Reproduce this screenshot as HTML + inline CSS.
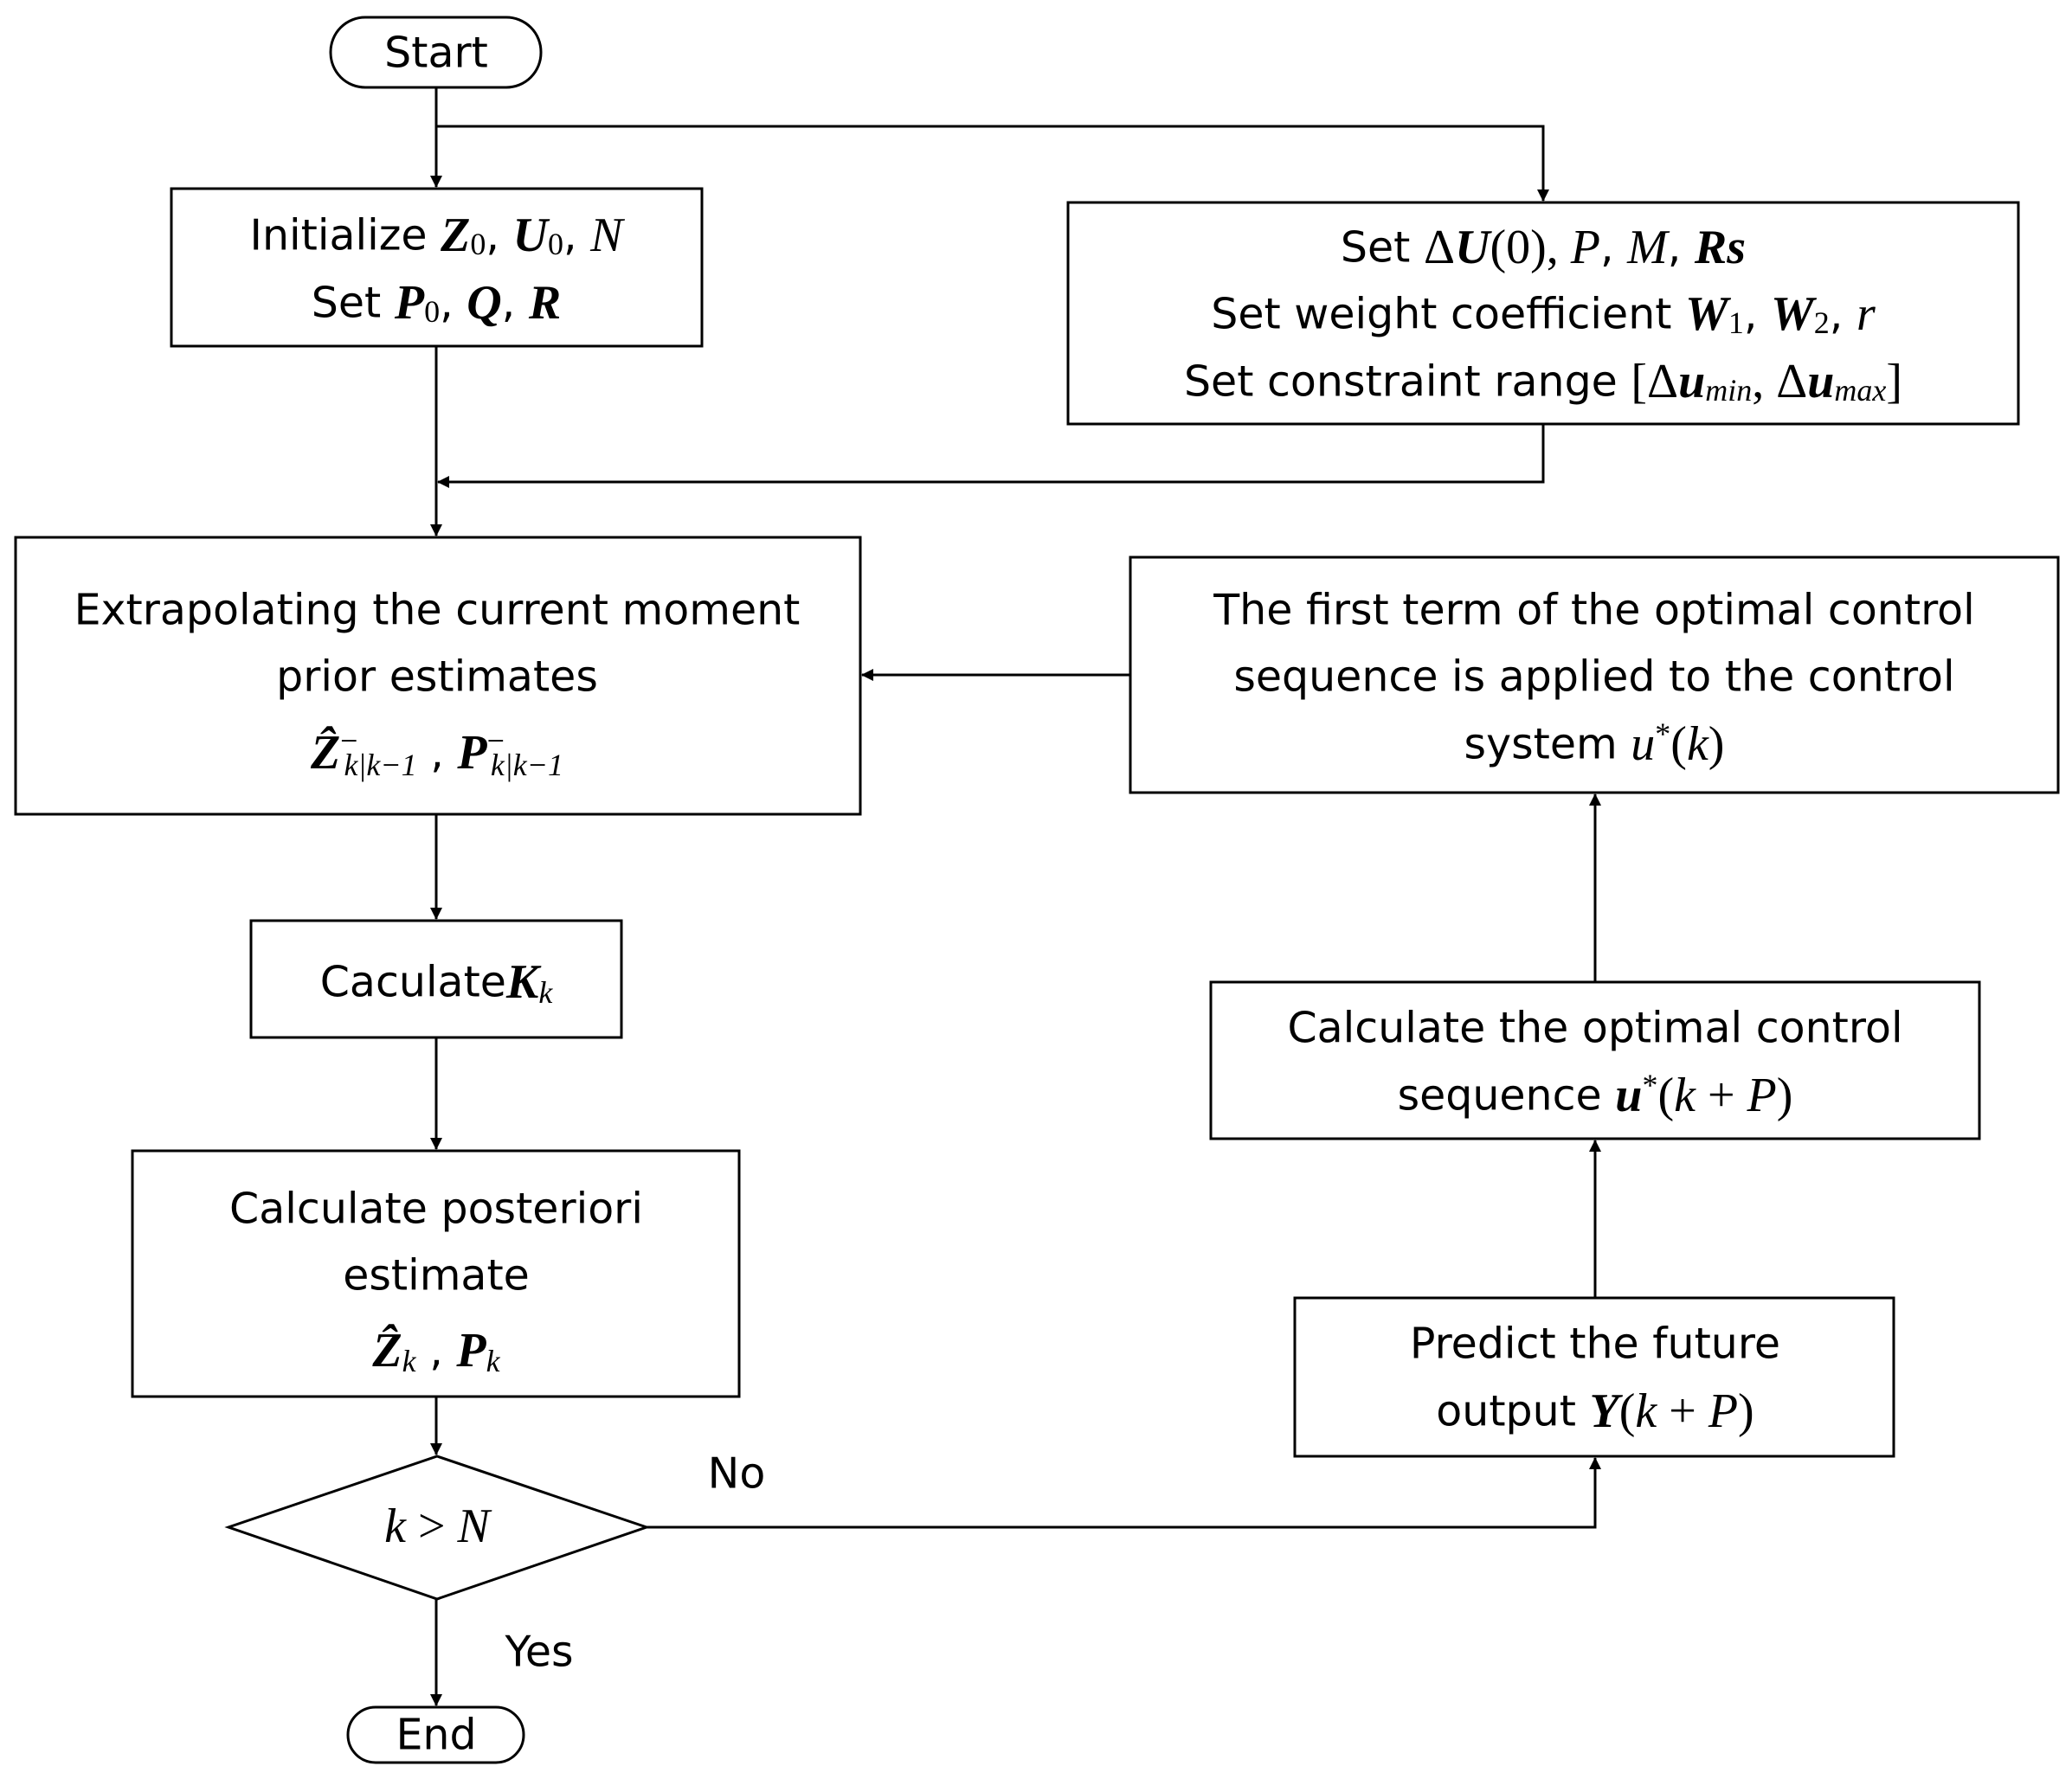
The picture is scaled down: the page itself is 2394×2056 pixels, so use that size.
<!DOCTYPE html>
<html><head><meta charset="utf-8"><style>
html,body{margin:0;padding:0;background:#fff}
svg{display:block}
text{font-family:"DejaVu Sans","Liberation Sans",sans-serif;font-size:49px;fill:#000;text-anchor:middle;dominant-baseline:central}
.m{font-family:"Liberation Serif",serif;font-style:italic;font-size:56px}
.b{font-family:"Liberation Serif",serif;font-weight:bold;font-style:italic;font-size:56px}
.r{font-family:"Liberation Serif",serif;font-size:56px}
.s{font-size:36px}
</style></head><body>
<svg width="2394" height="2056" viewBox="0 0 2394 2056" xmlns="http://www.w3.org/2000/svg">
<defs><marker id="a" markerWidth="14" markerHeight="14" refX="13" refY="7" orient="auto" markerUnits="userSpaceOnUse"><path d="M0,0 L14,7 L0,14 z" fill="#000"/></marker></defs>
<g fill="none" stroke="#000" stroke-width="3">
<rect x="382" y="20" width="243" height="81" rx="40"/>
<rect x="198" y="218" width="613" height="182"/>
<rect x="1234" y="234" width="1098" height="256"/>
<rect x="18" y="621" width="976" height="320"/>
<rect x="1306" y="644" width="1072" height="272"/>
<rect x="290" y="1064" width="428" height="135"/>
<rect x="153" y="1330" width="701" height="284"/>
<path d="M505,1683 L747,1765 L505,1848 L264,1765 Z"/>
<rect x="402" y="1973" width="203" height="64" rx="32"/>
<rect x="1496" y="1500" width="692" height="183"/>
<rect x="1399" y="1135" width="888" height="181"/>
<path d="M504,101 V216" marker-end="url(#a)"/>
<path d="M504,146 H1783 V232" marker-end="url(#a)"/>
<path d="M1783,490 V557 H506" marker-end="url(#a)"/>
<path d="M504,400 V619" marker-end="url(#a)"/>
<path d="M1306,780 H996" marker-end="url(#a)"/>
<path d="M504,941 V1062" marker-end="url(#a)"/>
<path d="M504,1199 V1328" marker-end="url(#a)"/>
<path d="M504,1614 V1681" marker-end="url(#a)"/>
<path d="M504,1848 V1971" marker-end="url(#a)"/>
<path d="M747,1765 H1843 V1685" marker-end="url(#a)"/>
<path d="M1843,1500 V1318" marker-end="url(#a)"/>
<path d="M1843,1135 V918" marker-end="url(#a)"/>
</g>
<text x="504" y="61">Start</text>
<text x="504" y="272">Initialize <tspan class="b">Z</tspan><tspan class="r s" dy="10">0</tspan><tspan dy="-10">, </tspan><tspan class="b">U</tspan><tspan class="r s" dy="10">0</tspan><tspan dy="-10">, </tspan><tspan class="m">N</tspan></text>
<text x="504" y="350">Set <tspan class="b">P</tspan><tspan class="r s" dy="10">0</tspan><tspan dy="-10">, </tspan><tspan class="b">Q</tspan>, <tspan class="b">R</tspan></text>
<text x="1783" y="286">Set <tspan class="r">Δ</tspan><tspan class="b">U</tspan><tspan class="r">(0), </tspan><tspan class="m">P</tspan>, <tspan class="m">M</tspan>, <tspan class="b">Rs</tspan></text>
<text x="1783" y="363">Set weight coefficient <tspan class="b">W</tspan><tspan class="r s" dy="10">1</tspan><tspan dy="-10">, </tspan><tspan class="b">W</tspan><tspan class="r s" dy="10">2</tspan><tspan dy="-10">, </tspan><tspan class="m">r</tspan></text>
<text x="1783" y="441">Set constraint range <tspan class="r">[Δ</tspan><tspan class="b">u</tspan><tspan class="m s" dy="10">min</tspan><tspan dy="-10" class="r">, Δ</tspan><tspan class="b">u</tspan><tspan class="m s" dy="10">max</tspan><tspan dy="-10" class="r">]</tspan></text>
<text x="505" y="705">Extrapolating the current moment</text>
<text x="505" y="782">prior estimates</text>
<text x="505" y="870"><tspan class="b">Ẑ</tspan><tspan class="r s" dy="-14">−</tspan><tspan class="m s" dy="28" dx="-16">k|k−1</tspan><tspan dy="-14"> , </tspan><tspan class="b">P</tspan><tspan class="r s" dy="-14">−</tspan><tspan class="m s" dy="28" dx="-16">k|k−1</tspan></text>
<text x="1842" y="705">The first term of the optimal control</text>
<text x="1842" y="782">sequence is applied to the control</text>
<text x="1842" y="860">system <tspan class="m">u</tspan><tspan class="r s" dy="-12">*</tspan><tspan class="r" dy="12">(</tspan><tspan class="m">k</tspan><tspan class="r">)</tspan></text>
<text x="504" y="1135">Caculate<tspan class="b">K</tspan><tspan class="m s" dy="12">k</tspan></text>
<text x="504" y="1397">Calculate  posteriori</text>
<text x="504" y="1474">estimate</text>
<text x="504" y="1561"><tspan class="b">Ẑ</tspan><tspan class="m s" dy="12">k</tspan><tspan dy="-12"> , </tspan><tspan class="b">P</tspan><tspan class="m s" dy="12">k</tspan></text>
<text x="505" y="1764"><tspan class="m">k</tspan><tspan class="r"> &gt; </tspan><tspan class="m">N</tspan></text>
<text x="504" y="2005">End</text>
<text x="1843" y="1553">Predict the future</text>
<text x="1843" y="1631">output  <tspan class="b">Y</tspan><tspan class="r">(</tspan><tspan class="m">k</tspan><tspan class="r"> + </tspan><tspan class="m">P</tspan><tspan class="r">)</tspan></text>
<text x="1843" y="1188">Calculate the optimal control</text>
<text x="1843" y="1266">sequence <tspan class="b">u</tspan><tspan class="r s" dy="-12">*</tspan><tspan class="r" dy="12">(</tspan><tspan class="m">k</tspan><tspan class="r"> + </tspan><tspan class="m">P</tspan><tspan class="r">)</tspan></text>
<text x="851" y="1703">No</text>
<text x="623" y="1909">Yes</text>
</svg>
</body></html>
